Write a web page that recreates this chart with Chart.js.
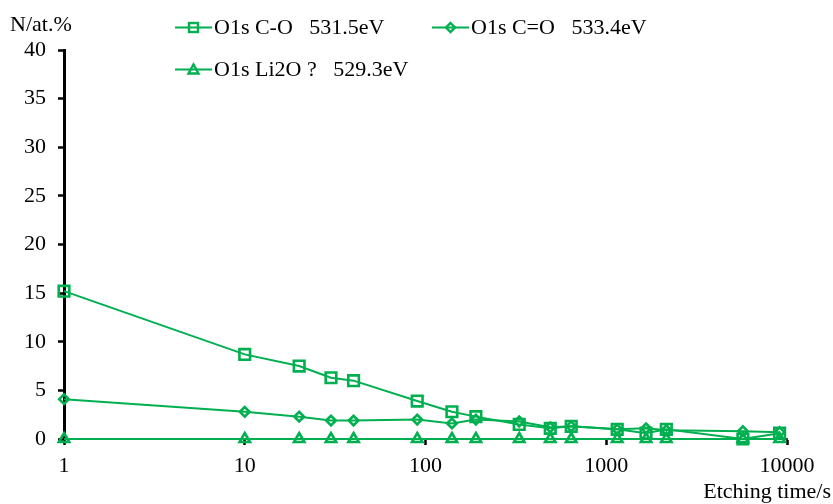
<!DOCTYPE html>
<html>
<head>
<meta charset="utf-8">
<script src="https://cdn.jsdelivr.net/npm/chart.js@4"></script>
<style>
  body { margin: 0; background: #fff; }
  #wrap { position: relative; width: 833px; height: 504px; font-family: "Liberation Serif", "Times New Roman", serif; font-size: 22px; color: #000; }
  canvas { position: absolute; left: 0; top: 0; }
  .lbl { position: absolute; white-space: pre; line-height: 1; }
  .leg { position: absolute; display: flex; align-items: center; white-space: pre; line-height: 1; }
  .leg svg { margin-right: 2px; }
</style>
</head>
<body>
<div id="wrap">
  <canvas id="chart" width="833" height="504"></canvas>
  <div class="lbl" style="left:10px; top:13px;">N/at.%</div>
  <div class="lbl" style="right:2px; top:480px;">Etching time/s</div>
  <div id="legend"></div>
</div>
<script>
// Etching time (s) and atomic % of each O1s component
const times = [1, 10, 20, 30, 40, 90, 140, 190, 330, 490, 640, 1150, 1660, 2150, 5700, 9100];
const coValues = [15.2, 8.7, 7.5, 6.3, 6.0, 3.9, 2.8, 2.3, 1.5, 1.1, 1.3, 1.0, 0.6, 1.0, 0.0, 0.6];
const cdoValues = [4.1, 2.8, 2.3, 1.9, 1.9, 2.0, 1.6, 2.0, 1.8, 1.2, 1.3, 1.0, 1.1, 0.9, 0.8, 0.7];
const li2oValues = [0, 0, 0, 0, 0, 0, 0, 0, 0, 0, 0, 0, 0, 0, 0, 0];

const seriesNames = ["O1s C-O   531.5eV", "O1s C=O   533.4eV", "O1s Li2O ?   529.3eV"];
const xTicks = [1, 10, 100, 1000, 10000];

const GREEN = "#00B050";
const FONT = { family: "'Liberation Serif', 'Times New Roman', serif", size: 22 };

function pts(values) {
  return values.map((v, i) => ({ x: times[i], y: v }));
}

function series(label, values, style, radius) {
  return {
    label: label,
    data: pts(values),
    borderColor: GREEN,
    backgroundColor: "#fff",
    borderWidth: 2,
    pointStyle: style,
    pointRadius: radius,
    pointBorderWidth: 2.6,
    pointBorderColor: GREEN,
    pointBackgroundColor: "rgba(255,255,255,0)",
    tension: 0,
    clip: false
  };
}

const ctx = document.getElementById("chart").getContext("2d");
const chart = new Chart(ctx, {
  type: "line",
  data: {
    datasets: [
      series(seriesNames[2], li2oValues, "triangle", 6),
      series(seriesNames[1], cdoValues, "rectRot", 4.8),
      series(seriesNames[0], coValues, "rect", 7.5)
    ]
  },
  options: {
    responsive: false,
    animation: false,
    layout: { padding: { left: 0, right: 46, top: 50, bottom: 0 } },
    plugins: { legend: { display: false }, tooltip: { enabled: false } },
    scales: {
      x: {
        type: "logarithmic",
        min: 1,
        max: 10000,
        afterBuildTicks: (s) => { s.ticks = xTicks.map(v => ({ value: v })); },
        afterFit: (s) => { s.height = 65; },
        ticks: {
          color: "#000",
          font: FONT,
          padding: 8,
          maxRotation: 0,
          autoSkip: false,
          callback: (v) => String(v)
        },
        grid: { display: true, drawOnChartArea: false, tickLength: 6, tickColor: "#000", tickWidth: 2.5 },
        border: { display: true, color: "#444", width: 2 }
      },
      y: {
        min: 0,
        max: 40,
        afterFit: (s) => { s.width = 64; },
        ticks: { stepSize: 5, color: "#000", font: FONT, padding: 12 },
        grid: { display: true, drawOnChartArea: false, tickLength: 6, tickColor: "#000", tickWidth: 2.5 },
        border: { display: true, color: "#000", width: 3 }
      }
    }
  }
});

// Excel-style legend: line with marker in the middle, then the text
const legendItems = [
  { name: seriesNames[0], shape: "rect", left: 175, top: 16 },
  { name: seriesNames[1], shape: "rectRot", left: 432, top: 16 },
  { name: seriesNames[2], shape: "triangle", left: 175, top: 58 }
];

function markerSvg(shape) {
  let m = "";
  if (shape === "rect") m = '<rect x="14" y="4" width="9" height="9" fill="none" stroke="' + GREEN + '" stroke-width="2.4"/>';
  if (shape === "rectRot") m = '<polygon points="18.5,4 23,8.5 18.5,13 14,8.5" fill="none" stroke="' + GREEN + '" stroke-width="2.4"/>';
  if (shape === "triangle") m = '<polygon points="18.5,3.5 23.5,12.5 13.5,12.5" fill="none" stroke="' + GREEN + '" stroke-width="2.4"/>';
  return '<svg width="37" height="17" viewBox="0 0 37 17"><line x1="0" y1="8.5" x2="37" y2="8.5" stroke="' + GREEN + '" stroke-width="2"/>' + m + '</svg>';
}

const legendEl = document.getElementById("legend");
legendItems.forEach(item => {
  const d = document.createElement("div");
  d.className = "leg";
  d.style.left = item.left + "px";
  d.style.top = item.top + "px";
  d.innerHTML = markerSvg(item.shape) + "<span>" + item.name + "</span>";
  legendEl.appendChild(d);
});
</script>
</body>
</html>
